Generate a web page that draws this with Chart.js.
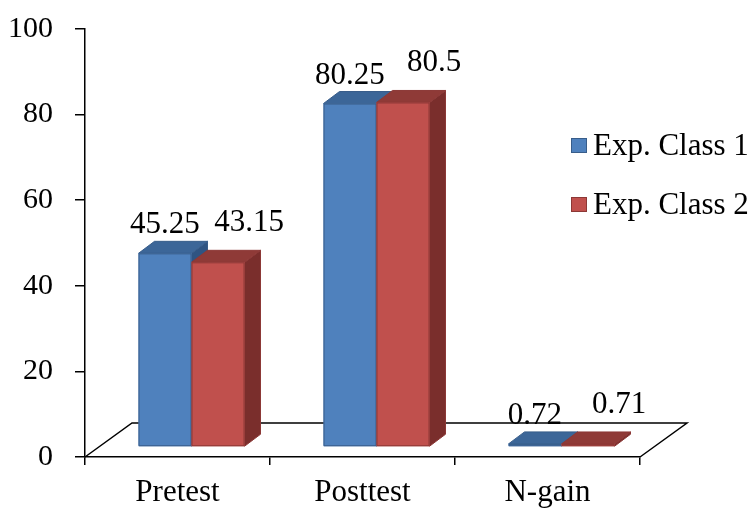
<!DOCTYPE html>
<html>
<head>
<meta charset="utf-8">
<script src="https://cdn.jsdelivr.net/npm/chart.js@4"></script>
<style>
  body { margin: 0; background: #fff; }
  #wrap { width: 756px; height: 509px; }
</style>
</head>
<body>
<div id="wrap"><canvas id="chart"></canvas></div>
<script>
// data
var categories = ['Pretest', 'Posttest', 'N-gain'];
var seriesNames = ['Exp. Class 1', 'Exp. Class 2'];
var class1 = [45.25, 80.25, 0.72];
var class2 = [43.15, 80.5, 0.71];
var yMin = 0, yMax = 100, yStep = 20;

var FONT = "'Liberation Serif', 'Times New Roman', serif";

// 3d look: [front, top, side, edge]
var shades = [
    ['#4f81bd', '#3c6698', '#2f5482', '#385d8a'],
    ['#c0504d', '#8f3a37', '#7a2e2c', '#8c3836']
];
// label nudges per series (dx, baseline gap above bar top)
var labelNudge = [[0, 20], [31, 31]];

var threeD = {
    id: 'threeD',
    beforeDatasetsDraw: function (chart) {
        var ctx = chart.ctx;
        var xs = chart.scales.x, ys = chart.scales.y;
        var y0 = ys.getPixelForValue(0);
        var fdx = 47, fdy = -34;           // floor depth
        var sx = 14, sy = -10;             // bars sit mid-floor
        var dx = 16, dy = -12;             // bar depth

        // floor outline
        ctx.save();
        ctx.strokeStyle = '#000';
        ctx.lineWidth = 1.5;
        ctx.beginPath();
        ctx.moveTo(xs.left, y0);
        ctx.lineTo(xs.left + fdx, y0 + fdy);
        ctx.lineTo(xs.right + fdx, y0 + fdy);
        ctx.lineTo(xs.right, y0);
        ctx.stroke();
        ctx.restore();

        for (var i = 0; i < categories.length; i++) {
            chart.data.datasets.forEach(function (ds, d) {
                var el = chart.getDatasetMeta(d).data[i];
                var c = shades[d];
                var l = el.x - el.width / 2 + sx, r = el.x + el.width / 2 + sx;
                var t = el.y + sy, b = el.base + sy;
                ctx.save();
                ctx.lineWidth = 1;
                ctx.strokeStyle = c[3];
                ctx.lineJoin = 'round';
                // side
                ctx.fillStyle = c[2];
                ctx.beginPath();
                ctx.moveTo(r, b); ctx.lineTo(r + dx, b + dy); ctx.lineTo(r + dx, t + dy); ctx.lineTo(r, t);
                ctx.closePath(); ctx.fill(); ctx.stroke();
                // top
                ctx.fillStyle = c[1];
                ctx.beginPath();
                ctx.moveTo(l, t); ctx.lineTo(l + dx, t + dy); ctx.lineTo(r + dx, t + dy); ctx.lineTo(r, t);
                ctx.closePath(); ctx.fill(); ctx.stroke();
                // front
                ctx.fillStyle = c[0];
                ctx.fillRect(l, t, r - l, b - t);
                ctx.strokeRect(l + 0.5, t + 0.5, r - l - 1, b - t - 1);
                ctx.restore();
            });
        }

        // value labels
        ctx.save();
        ctx.fillStyle = '#000';
        ctx.font = '31px ' + FONT;
        ctx.textAlign = 'center';
        ctx.textBaseline = 'alphabetic';
        chart.data.datasets.forEach(function (ds, d) {
            chart.getDatasetMeta(d).data.forEach(function (el, i) {
                ctx.fillText(String(ds.data[i]), el.x + sx + labelNudge[d][0], el.y + sy - labelNudge[d][1]);
            });
        });
        ctx.restore();
        return false;
    },
    afterDraw: function (chart) {
        var ctx = chart.ctx;
        ctx.save();
        ctx.font = '31px ' + FONT;
        ctx.textBaseline = 'middle';
        chart.data.datasets.forEach(function (ds, d) {
            var y = 146 + d * 59;
            ctx.fillStyle = shades[d][0];
            ctx.strokeStyle = shades[d][3];
            ctx.lineWidth = 1;
            ctx.fillRect(571, y - 8, 16, 15);
            ctx.strokeRect(571.5, y - 7.5, 15, 14);
            ctx.fillStyle = '#000';
            ctx.fillText(ds.label, 593, y + 1);
        });
        ctx.restore();
    }
};

new Chart(document.getElementById('chart'), {
    type: 'bar',
    data: {
        labels: categories,
        datasets: [
            { label: seriesNames[0], data: class1, backgroundColor: shades[0][0] },
            { label: seriesNames[1], data: class2, backgroundColor: shades[1][0] }
        ]
    },
    options: {
        animation: false,
        responsive: true,
        maintainAspectRatio: false,
        categoryPercentage: 0.573,
        barPercentage: 1,
        layout: { padding: { left: 0, right: 116, top: 29, bottom: 0 } },
        plugins: {
            legend: { display: false },
            tooltip: { enabled: false }
        },
        scales: {
            x: {
                afterFit: function (s) { s.height = 52; s.paddingLeft = 0; s.paddingRight = 0; },
                ticks: { color: '#000', font: { family: FONT, size: 31, lineHeight: 1 }, padding: 12 },
                grid: { drawOnChartArea: false, tickLength: 8, color: '#000', lineWidth: 1.5, offset: true },
                border: { color: '#000', width: 1.5 }
            },
            y: {
                min: yMin,
                max: yMax,
                afterFit: function (s) { s.width = 85; s.paddingTop = 0; s.paddingBottom = 0; },
                ticks: { stepSize: yStep, color: '#000', font: { family: FONT, size: 30 }, padding: 22 },
                grid: { drawOnChartArea: false, tickLength: 10, color: '#000', lineWidth: 1.5 },
                border: { color: '#000', width: 1.5 }
            }
        }
    },
    plugins: [threeD]
});
</script>
</body>
</html>
